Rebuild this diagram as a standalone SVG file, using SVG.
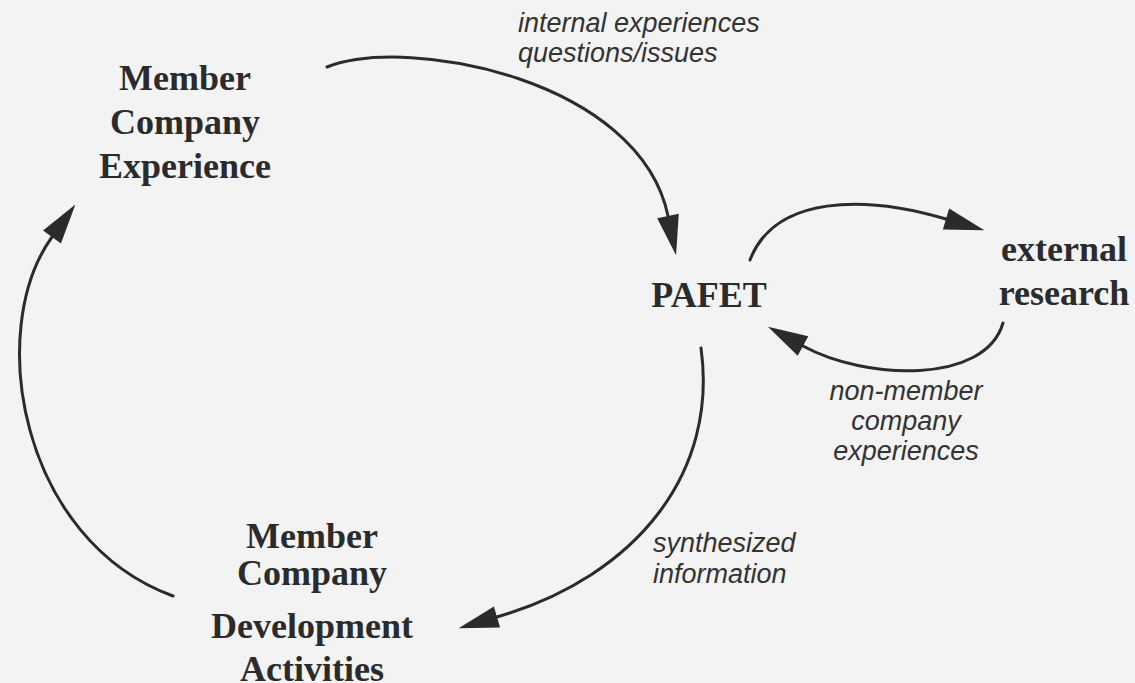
<svg xmlns="http://www.w3.org/2000/svg" width="1135" height="683" viewBox="0 0 1135 683">
<style>
.node{font-family:"Liberation Serif","Times New Roman",serif;font-weight:bold;font-size:36px;fill:#2b2b2b;text-anchor:middle}
.lbl{font-family:"Liberation Sans",Arial,sans-serif;font-style:italic;font-size:27px;fill:#333}
.conn{fill:none;stroke:#2b2b2b;stroke-width:3;stroke-linecap:round}
</style>
<defs>
<marker id="ah" markerUnits="userSpaceOnUse" markerWidth="50" markerHeight="30" refX="0" refY="12" orient="auto" overflow="visible">
<path d="M0,1 L40,12 L0,23 Z" fill="#2b2b2b"/>
</marker>
</defs>
<rect width="1135" height="683" fill="#f3f3f3"/>
<g id="connectors">
<path class="conn" d="M327,67 C410,35 640,80 668,216" marker-end="url(#ah)"/>
<path class="conn" d="M173,596 C20,540 -15,330 52,237" marker-end="url(#ah)"/>
<path class="conn" d="M701,348 C718,470 640,575 497,617" marker-end="url(#ah)"/>
<path class="conn" d="M750,260 C775,195 865,195 946,219" marker-end="url(#ah)"/>
<path class="conn" d="M1003,323 C985,385 865,380 803,346" marker-end="url(#ah)"/>
</g>
<g id="node-member-experience">
<text class="node" x="185" y="90">Member</text>
<text class="node" x="185" y="134">Company</text>
<text class="node" x="185" y="178">Experience</text>
</g>
<g id="node-pafet">
<text class="node" x="709" y="307">PAFET</text>
</g>
<g id="node-external">
<text class="node" x="1064" y="261">external</text>
<text class="node" x="1064" y="305">research</text>
</g>
<g id="node-member-development">
<text class="node" x="312" y="548">Member</text>
<text class="node" x="312" y="585">Company</text>
<text class="node" x="312" y="638">Development</text>
<text class="node" x="312" y="681">Activities</text>
</g>
<g id="labels">
<text class="lbl" x="518" y="32">internal experiences</text>
<text class="lbl" x="518" y="62">questions/issues</text>
<text class="lbl" x="906" y="400" text-anchor="middle">non-member</text>
<text class="lbl" x="906" y="430" text-anchor="middle">company</text>
<text class="lbl" x="906" y="460" text-anchor="middle">experiences</text>
<text class="lbl" x="653" y="552">synthesized</text>
<text class="lbl" x="653" y="583">information</text>
</g>
</svg>
